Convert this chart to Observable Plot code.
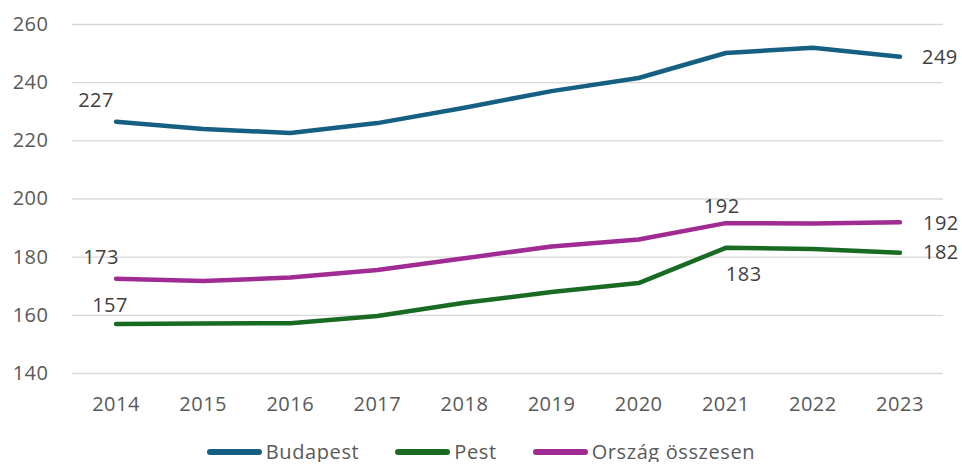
<!DOCTYPE html>
<html>
<head>
<meta charset="utf-8">
<script src="https://cdn.jsdelivr.net/npm/d3@7"></script>
<script src="https://cdn.jsdelivr.net/npm/@observablehq/plot@0.6"></script>
<style>
  body { margin: 0; background: #fff; font-family: "Open Sans", sans-serif; }
  #chart { width: 962px; }
  .legend { display: flex; justify-content: center; gap: 36px; font-size: 20px; letter-spacing: 0.6px; color: #595959; line-height: 20px; height: 20px; margin-top: -4px; padding-left: 0px; }
  .legend .item { display: flex; align-items: center; gap: 4px; }
  .legend .sw { width: 55px; height: 6px; border-radius: 3px; display: inline-block; }
</style>
</head>
<body>
<div id="chart"></div>
<script>
const years = [2014, 2015, 2016, 2017, 2018, 2019, 2020, 2021, 2022, 2023];
const seriesNames = ["Budapest", "Pest", "Ország összesen"];
const budapest = [226.6, 224.1, 222.7, 226.1, 231.4, 237.1, 241.6, 250.2, 252.0, 248.9];
const pest = [157.0, 157.2, 157.3, 159.8, 164.3, 168.0, 171.1, 183.2, 182.8, 181.5];
const orszag = [172.6, 171.8, 173.0, 175.6, 179.6, 183.7, 186.1, 191.7, 191.6, 192.0];
const colors = ["#156082", "#196B24", "#A02B93"];
const yTicks = [140, 160, 180, 200, 220, 240, 260];
// data labels: series, year, text
const labelSeries = ["Budapest", "Budapest", "Pest", "Pest", "Pest", "Ország összesen", "Ország összesen", "Ország összesen"];
const labelYears = [2014, 2023, 2014, 2021, 2023, 2014, 2021, 2023];
const labelTexts = ["227", "249", "157", "183", "182", "173", "192", "192"];

const valuesBySeries = {"Budapest": budapest, "Pest": pest, "Ország összesen": orszag};
const data = seriesNames.flatMap(s => years.map((y, i) => ({series: s, year: y, value: valuesBySeries[s][i]})));
const labels = labelSeries.map((s, i) => ({series: s, year: labelYears[i], text: labelTexts[i], value: valuesBySeries[s][years.indexOf(labelYears[i])]}));

// label offsets (styling, in px)
const offsets = [
  {dx: -20, dy: -21, anchor: "middle"},
  {dx: 22, dy: 1, anchor: "start"},
  {dx: -6, dy: -18, anchor: "middle"},
  {dx: 18, dy: 27, anchor: "middle"},
  {dx: 23, dy: 0, anchor: "start"},
  {dx: -15, dy: -21, anchor: "middle"},
  {dx: -4, dy: -17, anchor: "middle"},
  {dx: 23, dy: 1, anchor: "start"}
];

const labelMarks = labels.map((d, i) => Plot.text([d], {
  x: "year", y: "value", text: "text",
  dx: offsets[i].dx, dy: offsets[i].dy, textAnchor: offsets[i].anchor,
  fill: "#404040", fontSize: 20
}));

const chart = Plot.plot({
  width: 962,
  height: 446,
  marginLeft: 72,
  marginRight: 19,
  marginTop: 24,
  marginBottom: 73,
  style: {fontFamily: "Open Sans, sans-serif", fontSize: "20px", color: "#595959", letterSpacing: "0.5px", overflow: "visible"},
  x: {domain: [2013.5, 2023.5], ticks: years, tickFormat: "d", tickSize: 0, tickPadding: 23, label: null},
  y: {domain: [140, 260], ticks: yTicks, tickSize: 0, tickPadding: 24, label: null},
  color: {domain: seriesNames, range: colors},
  marks: [
    Plot.gridY(yTicks, {stroke: "#d9d9d9", strokeOpacity: 1, strokeWidth: 1.3}),
    Plot.line(data, {x: "year", y: "value", z: "series", stroke: "series", strokeWidth: 4.5, strokeLinecap: "round", strokeLinejoin: "round"}),
    ...labelMarks
  ]
});
document.getElementById("chart").appendChild(chart);

const legend = document.createElement("div");
legend.className = "legend";
seriesNames.forEach((s, i) => {
  const item = document.createElement("span");
  item.className = "item";
  const sw = document.createElement("span");
  sw.className = "sw";
  sw.style.background = colors[i];
  const t = document.createElement("span");
  t.textContent = s;
  item.appendChild(sw);
  item.appendChild(t);
  legend.appendChild(item);
});
document.getElementById("chart").appendChild(legend);
</script>
</body>
</html>
